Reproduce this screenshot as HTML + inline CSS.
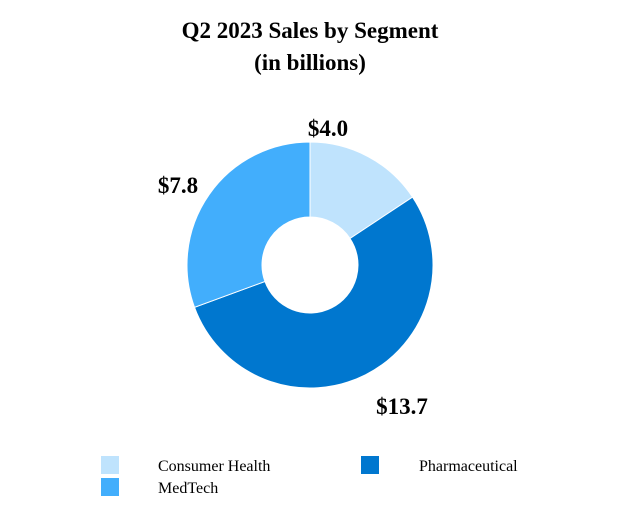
<!DOCTYPE html>
<html><head><meta charset="utf-8"><style>
body{margin:0;background:#fff;}
svg{display:block;font-family:"Liberation Serif",serif;}
</style></head><body>
<svg width="620" height="528">
<text x="310" y="38" text-anchor="middle" font-size="23" font-weight="bold">Q2 2023 Sales by Segment</text>
<text x="310" y="70" text-anchor="middle" font-size="23" font-weight="bold">(in billions)</text>
<g id="slices"></g>
<g id="labels"></g>
<g id="legend"></g>
</svg>
<script>
const categories=["Consumer Health","Pharmaceutical","MedTech"];
const values=[4.0,13.7,7.8];
const valueLabels=["$4.0","$13.7","$7.8"];
const colors=["#BFE3FD","#0077CF","#42AEFC"];
const cx=310,cy=265,R=123,r=48;
const ns="http://www.w3.org/2000/svg";
const total=values.reduce((a,b)=>a+b,0);
const sg=document.getElementById('slices'),lg=document.getElementById('labels'),leg=document.getElementById('legend');
function pt(a,rad){return [cx+rad*Math.sin(a),cy-rad*Math.cos(a)];}
let a0=0;
const labelPos=[[328,136],[402,414],[178,193]];
values.forEach((v,i)=>{
  const a1=a0+v/total*2*Math.PI;
  const large=(a1-a0)>Math.PI?1:0;
  const p1=pt(a0,R),p2=pt(a1,R),p3=pt(a1,r),p4=pt(a0,r);
  const p=document.createElementNS(ns,'path');
  p.setAttribute('d',`M${p1[0]},${p1[1]}A${R},${R} 0 ${large} 1 ${p2[0]},${p2[1]}L${p3[0]},${p3[1]}A${r},${r} 0 ${large} 0 ${p4[0]},${p4[1]}Z`);
  p.setAttribute('fill',colors[i]);p.setAttribute('stroke','#fff');p.setAttribute('stroke-width','1');
  
  
  sg.appendChild(p);
  const t=document.createElementNS(ns,'text');
  t.setAttribute('x',labelPos[i][0]);t.setAttribute('y',labelPos[i][1]);
  t.setAttribute('text-anchor','middle');t.setAttribute('font-size','23');t.setAttribute('font-weight','bold');
  t.textContent=valueLabels[i];
  
  
  lg.appendChild(t);
  a0=a1;
});
const legPos=[[101,456,158],[361,456,419],[101,478,158]];
categories.forEach((c,i)=>{
  const g=document.createElementNS(ns,'g');
  
  
  const rc=document.createElementNS(ns,'rect');
  rc.setAttribute('x',legPos[i][0]);rc.setAttribute('y',legPos[i][1]);rc.setAttribute('width',18);rc.setAttribute('height',18);rc.setAttribute('fill',colors[i]);
  const t=document.createElementNS(ns,'text');
  t.setAttribute('x',legPos[i][2]);t.setAttribute('y',legPos[i][1]+15);t.setAttribute('font-size','16');
  t.textContent=c;
  g.appendChild(rc);g.appendChild(t);leg.appendChild(g);
});
</script>
</body></html>
